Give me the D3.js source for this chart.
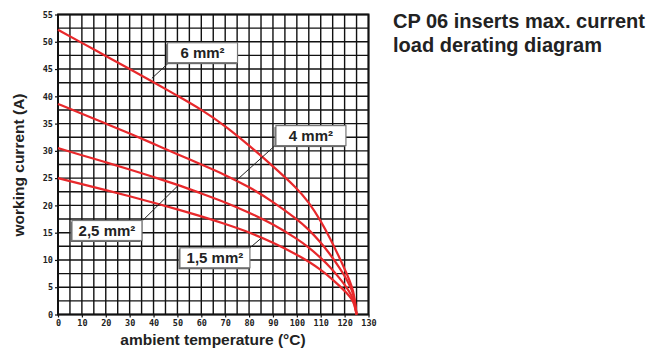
<!DOCTYPE html>
<html>
<head>
<meta charset="utf-8">
<script src="https://cdn.jsdelivr.net/npm/d3@7/dist/d3.min.js"></script>
<style>
  html, body { margin: 0; padding: 0; background: #fff; }
  svg { display: block; }
  .tick text { font-family: "DejaVu Sans Mono", monospace; font-weight: bold; font-size: 8.5px; fill: #222; }
  .tick line { stroke: #111; stroke-width: 1.2; }
  .lbl { font-family: "Liberation Sans", Arial, sans-serif; font-weight: bold; fill: #222; }
</style>
</head>
<body>
<svg id="chart" width="656" height="351"></svg>
<script>
// Ambient temperature sample points (°C)
const temperatures = [0, 10, 20, 30, 40, 50, 60, 70, 80, 90, 100, 105, 110, 114, 118, 121, 123, 124, 125];

// Maximum working current (A) per conductor cross-section
const current6 = [52.2, 49.8, 47.4, 45.0, 42.6, 40.1, 37.6, 34.6, 31.0, 27.2, 23.2, 20.6, 17.2, 13.9, 10.3, 7.4, 5.2, 3.7, 0];
const current4 = [38.6, 36.8, 35.0, 33.2, 31.3, 29.4, 27.5, 25.6, 23.4, 20.7, 17.5, 15.6, 13.2, 11.0, 8.5, 6.4, 4.5, 3.2, 0];
const current25 = [30.5, 29.2, 27.9, 26.6, 25.2, 23.8, 22.2, 20.6, 18.7, 16.6, 13.9, 12.3, 10.4, 8.7, 6.6, 4.9, 3.4, 2.4, 0];
const current15 = [25.0, 23.9, 22.8, 21.7, 20.5, 19.3, 18.0, 16.6, 15.1, 13.2, 11.0, 9.7, 8.2, 6.8, 5.2, 3.9, 2.8, 2.0, 0];

const seriesNames = ["6 mm²", "4 mm²", "2,5 mm²", "1,5 mm²"];
const seriesValues = [current6, current4, current25, current15];

// Callout labels: box centre, leader start and leader end (°C, A)
const labelCentres = [[60.5, 48.0], [105.9, 32.8], [20.5, 15.4], [65.7, 10.4]];
const leaderStarts = [[46.0, 46.0], [91.2, 31.1], [35.6, 17.3], [80.3, 12.2]];
const leaderEnds = [[39.3, 43.3], [74.5, 24.5], [50.4, 23.7], [85.1, 14.0]];

// Axis ticks
const xTicks = d3.range(0, 131, 10);
const yTicks = d3.range(0, 56, 5);
const xGrid = d3.range(0, 131, 5);
const yGrid = d3.range(0, 55.1, 2.5);

const titleLines = ["CP 06 inserts max. current", "load derating diagram"];
const xTitle = "ambient temperature (°C)";
const yTitle = "working current (A)";

const svg = d3.select("#chart");
const x = d3.scaleLinear().domain([0, 130]).range([58, 368.5]);
const y = d3.scaleLinear().domain([0, 55]).range([314.5, 14.5]);

// Grid
const grid = svg.append("g");
grid.selectAll("line.v").data(xGrid).join("line")
  .attr("x1", d => x(d)).attr("x2", d => x(d))
  .attr("y1", y(0)).attr("y2", y(55))
  .attr("stroke", "#111").attr("stroke-width", 1.4);
grid.selectAll("line.h").data(yGrid).join("line")
  .attr("y1", d => y(d)).attr("y2", d => y(d))
  .attr("x1", x(0)).attr("x2", x(130))
  .attr("stroke", "#111").attr("stroke-width", 1.4);
grid.append("rect")
  .attr("x", x(0)).attr("y", y(55))
  .attr("width", x(130) - x(0)).attr("height", y(0) - y(55))
  .attr("fill", "none").attr("stroke", "#111").attr("stroke-width", 2);

// Axes
const xAxis = svg.append("g").attr("transform", `translate(0,${y(0)})`)
  .call(d3.axisBottom(x).tickValues(xTicks).tickSize(3).tickPadding(2));
xAxis.select(".domain").remove();

const yAxis = svg.append("g").attr("transform", `translate(${x(0)},0)`)
  .call(d3.axisLeft(y).tickValues(yTicks).tickSize(3).tickPadding(2));
yAxis.select(".domain").remove();

// Curves (smooth B-spline through the sampled derating values)
const line = d3.line()
  .x((d, i) => x(temperatures[i]))
  .y(d => y(d))
  .curve(d3.curveBasis);

svg.append("g").selectAll("path").data(seriesValues).join("path")
  .attr("d", d => line(d))
  .attr("fill", "none")
  .attr("stroke", "#e8282b")
  .attr("stroke-width", 2.2)
  .attr("stroke-linejoin", "round");

// Callouts
const callouts = svg.append("g");
seriesNames.forEach((name, i) => {
  callouts.append("line")
    .attr("x1", x(leaderStarts[i][0])).attr("y1", y(leaderStarts[i][1]))
    .attr("x2", x(leaderEnds[i][0])).attr("y2", y(leaderEnds[i][1]))
    .attr("stroke", "#222").attr("stroke-width", 1);
  const cx = x(labelCentres[i][0]), cy = y(labelCentres[i][1]);
  const w = 70, h = 20;
  callouts.append("rect")
    .attr("x", cx - w / 2 - 1.5).attr("y", cy - h / 2 + 1.5)
    .attr("width", w).attr("height", h)
    .attr("fill", "#666");
  callouts.append("rect")
    .attr("x", cx - w / 2).attr("y", cy - h / 2)
    .attr("width", w).attr("height", h)
    .attr("fill", "#fff").attr("stroke", "#777").attr("stroke-width", 1.2);
  callouts.append("text").attr("class", "lbl")
    .attr("x", cx).attr("y", cy + 5.5)
    .attr("text-anchor", "middle")
    .attr("font-size", "15px")
    .text(name);
});

// Axis titles
svg.append("text").attr("class", "lbl")
  .attr("x", 213).attr("y", 345)
  .attr("text-anchor", "middle").attr("font-size", "15.5px")
  .text(xTitle);
svg.append("text").attr("class", "lbl")
  .attr("transform", "translate(24,165) rotate(-90)")
  .attr("text-anchor", "middle").attr("font-size", "15.5px")
  .text(yTitle);

// Chart title
svg.append("g").selectAll("text").data(titleLines).join("text")
  .attr("class", "lbl")
  .attr("x", 393).attr("y", (d, i) => 28 + i * 24)
  .attr("font-size", "20px")
  .text(d => d);
</script>
</body>
</html>
